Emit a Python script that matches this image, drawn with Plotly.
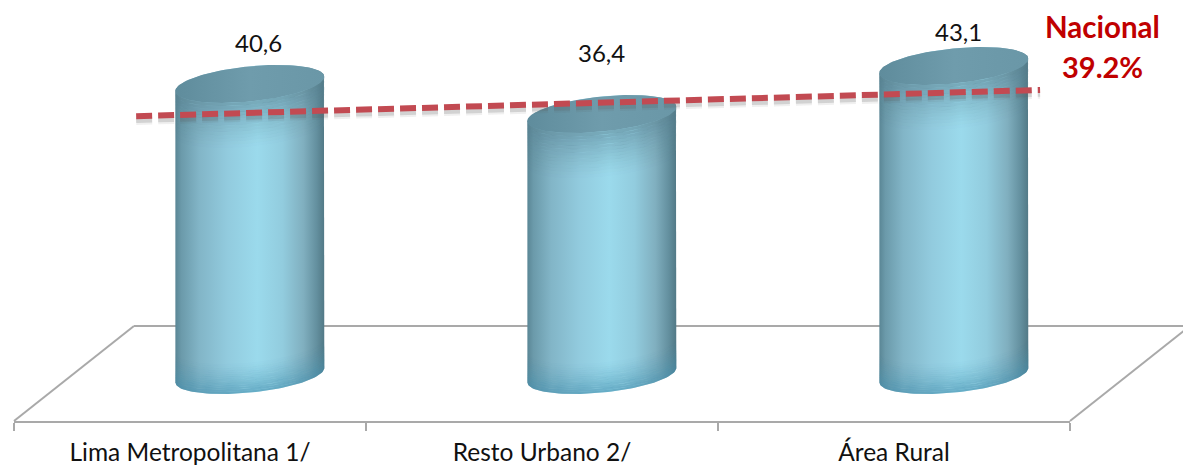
import numpy as np
import plotly.graph_objects as go

categories = ["Lima Metropolitana 1/", "Resto Urbano 2/", "Área Rural"]
values = [40.6, 36.4, 43.1]
value_labels = ["40,6", "36,4", "43,1"]
national_title = "Nacional"
national_label = "39.2%"
national_line_x = [-0.153, 2.415]
national_line_y = [36.1, 39.76]

label_shift_x = [9, 0, 5]
label_shift_y = [41, 62, 34]

DEPTH_X = 0.17
HALF_W = 0.2116
CAP_B = 2.45
CAP_K = 1.0
FLOOR_Y = 6.4
FONT = "Lato"
GRAY = "#a9a9a9"

fig = go.Figure()

# real category axis: carries the front floor edge, ticks and labels
fig.add_trace(go.Scatter(x=categories, y=[0, 0, 0], mode="none", xaxis="x", yaxis="y",
                         showlegend=False, hoverinfo="skip"))

# floor outline (back edge and the two receding sides)
floor_x = [0.0, 0.1136, 1.1136, 1.0]
floor_y = [0.0, 0.2257, 0.2257, 0.0]
shapes = [
    dict(type="line", xref="paper", yref="paper", layer="below",
         x0=floor_x[k], y0=floor_y[k], x1=floor_x[k + 1], y1=floor_y[k + 1],
         line=dict(color=GRAY, width=2))
    for k in range(3)
]


def arc(c, v, t0, t1, n=60):
    t = np.linspace(t0, t1, n)
    return c + HALF_W * np.cos(t), v + CAP_B * np.sin(t) + CAP_K * np.cos(t)


def band(x, y, d0, d1, color):
    fig.add_trace(go.Scatter(
        x=np.r_[x, x[::-1]], y=np.r_[y + d0, y[::-1] + d1], mode="lines", fill="toself",
        line=dict(width=0), fillcolor=color,
        xaxis="x2", yaxis="y", showlegend=False, hoverinfo="skip"))


body_scale = [
    [0.0, "#5a8695"], [0.04, "#6b9aaa"], [0.16, "#82b5c7"], [0.35, "#92cbde"],
    [0.55, "#9bdaec"], [0.72, "#92ccde"], [0.86, "#80afbf"], [0.95, "#638f9e"], [1.0, "#527986"],
]
N_STEPS = 14

for i, v in enumerate(values):
    c = i + DEPTH_X
    bx, by = arc(c, 0, np.pi, 2 * np.pi)
    tx, ty = arc(c, v, 0, np.pi)
    # cylinder body
    fig.add_trace(go.Scatter(
        x=np.r_[bx, tx], y=np.r_[by, ty], mode="lines", fill="toself", line=dict(width=0),
        fillgradient=dict(type="horizontal", colorscale=body_scale),
        xaxis="x2", yaxis="y", showlegend=False, hoverinfo="skip"))
    # shading under the cap, following its curve
    lx, ly = arc(c, v, np.pi, 2 * np.pi)
    for s in range(N_STEPS):
        f = 1 - s / N_STEPS
        band(lx, ly, -s * 0.45, -(s + 1) * 0.45, f"rgba(85,125,140,{0.5 * f ** 1.4:.3f})")
    # shading at the foot, following its curve
    for s in range(N_STEPS):
        f = 1 - s / N_STEPS
        band(bx, by, s * 0.3, (s + 1) * 0.3, f"rgba(70,145,175,{0.6 * f ** 1.4:.3f})")
    # top cap
    ax, ay = arc(c, v, 0, 2 * np.pi, 120)
    fig.add_trace(go.Scatter(
        x=ax, y=ay, mode="lines", fill="toself", line=dict(width=0),
        fillgradient=dict(type="horizontal", colorscale=[[0, "#5f8c9c"], [0.5, "#6f9cac"], [1, "#6a97a7"]]),
        xaxis="x2", yaxis="y", showlegend=False, hoverinfo="skip"))

# national reference line with its soft shadow
for width, alpha, drop in [(9, 0.09, 0.6), (5, 0.20, 0.6)]:
    fig.add_trace(go.Scatter(
        x=national_line_x, y=[y - drop for y in national_line_y], mode="lines",
        line=dict(color=f"rgba(90,90,90,{alpha})", width=width, dash="16px,6px"),
        xaxis="x2", yaxis="y", showlegend=False, hoverinfo="skip"))
fig.add_trace(go.Scatter(
    x=national_line_x, y=national_line_y, mode="lines",
    line=dict(color="#c24a52", width=6, dash="16px,6px"),
    xaxis="x2", yaxis="y", showlegend=False, hoverinfo="skip"))

annotations = []
for i, (v, lab) in enumerate(zip(values, value_labels)):
    annotations.append(dict(
        x=i + DEPTH_X, y=v, xref="x2", yref="y", text=lab, showarrow=False,
        xshift=label_shift_x[i], yshift=label_shift_y[i],
        font=dict(family=FONT, size=24, color="#111111")))
annotations.append(dict(x=1.0312, y=0.938, xref="paper", yref="paper", text=national_title, showarrow=False,
                        xanchor="center", yanchor="middle",
                        font=dict(family=FONT, size=29.5, color="#c00000", weight="bold")))
annotations.append(dict(x=1.0312, y=0.842, xref="paper", yref="paper", text=national_label, showarrow=False,
                        xanchor="center", yanchor="middle",
                        font=dict(family=FONT, size=29, color="#c00000", weight="bold")))

fig.update_layout(
    width=1183, height=468, margin=dict(l=14, r=113, t=0, b=47, autoexpand=False),
    paper_bgcolor="white", plot_bgcolor="white", showlegend=False,
    annotations=annotations, shapes=shapes,
    xaxis=dict(type="category", categoryorder="array", categoryarray=categories, range=[-0.5, 2.5],
               tickson="boundaries", ticks="outside", ticklen=8, tickwidth=1.5, tickcolor=GRAY,
               showline=True, linecolor=GRAY, linewidth=2, showgrid=False, zeroline=False,
               ticklabelstandoff=9,
               tickfont=dict(family=FONT, size=24.5, color="#111111"), anchor="y", automargin=False),
    xaxis2=dict(range=[-0.5, 2.5], overlaying="x", visible=False, anchor="y"),
    yaxis=dict(range=[-FLOOR_Y, 52.3], visible=False, fixedrange=True),
)

fig.write_html("out.html", config={"displayModeBar": False},
               post_script="document.body.style.margin='0';document.body.style.overflow='hidden';")
